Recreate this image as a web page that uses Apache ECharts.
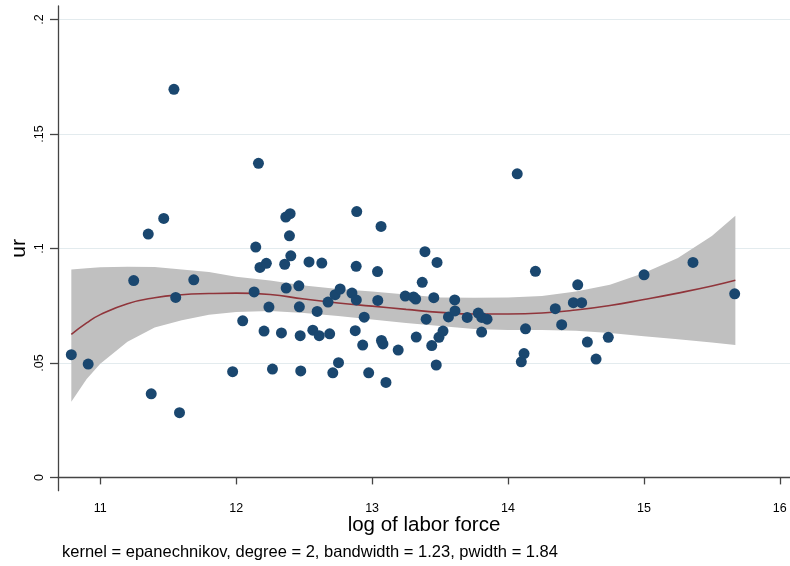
<!DOCTYPE html>
<html>
<head>
<meta charset="utf-8">
<script src="https://cdn.jsdelivr.net/npm/echarts@6/dist/echarts.min.js"></script>
<style>html,body{margin:0;padding:0;background:#fff}#c{width:790px;height:566px}</style>
</head>
<body>
<div id="c"></div>
<script>
// Scatter: log of labor force (x) vs unemployment rate ur (y)
const lnlf = [10.787,10.911,11.246,11.353,11.467,11.542,11.555,11.375,11.583,11.688,
  11.974,12.048,12.132,12.144,12.164,12.175,12.222,12.205,12.241,12.267,
  12.333,12.357,12.368,12.365,12.397,12.392,12.402,12.461,12.465,12.471,
  12.475,12.536,12.564,12.596,12.611,12.630,12.676,12.688,12.711,12.728,
  12.753,12.765,12.852,12.884,12.876,12.883,12.887,12.942,12.931,12.975,
  13.040,13.042,13.066,13.069,13.080,13.102,13.192,13.244,13.305,13.321,
  13.325,13.369,13.389,13.398,13.439,13.454,13.478,13.472,13.492,13.522,
  13.562,13.608,13.610,13.700,13.781,13.807,13.846,13.806,14.068,14.098,
  14.118,14.129,14.202,14.348,14.395,14.481,14.542,14.513,14.584,14.648,
  14.738,15.001,15.361,15.668];
const ur = [0.0536,0.0495,0.0860,0.1063,0.1131,0.1695,0.0786,0.0365,0.0283,0.0863,
  0.0462,0.0684,0.0810,0.1006,0.1372,0.0917,0.0935,0.0639,0.0744,0.0473,
  0.0631,0.0931,0.0827,0.1137,0.1152,0.1055,0.0968,0.0837,0.0745,0.0619,
  0.0465,0.0941,0.0643,0.0725,0.0619,0.0936,0.0766,0.0627,0.0457,0.0798,
  0.0501,0.0823,0.0805,0.0775,0.0641,0.0922,0.1161,0.0700,0.0578,0.0457,
  0.0899,0.0773,0.1096,0.0598,0.0583,0.0415,0.0556,0.0792,0.0788,0.0779,
  0.0613,0.0852,0.0986,0.0691,0.0576,0.0785,0.0939,0.0491,0.0612,0.0639,
  0.0701,0.0775,0.0727,0.0699,0.0718,0.0699,0.0691,0.0635,0.1326,0.0505,
  0.0541,0.0649,0.0900,0.0737,0.0667,0.0763,0.0763,0.0841,0.0591,0.0517,
  0.0612,0.0885,0.0939,0.0802];

// Local polynomial smooth and its confidence band
const gridX = [10.787,10.9,11.0,11.2,11.4,11.6,11.8,12.0,12.25,12.5,12.75,13.0,13.25,13.5,13.75,14.0,14.25,14.5,14.75,15.0,15.25,15.5,15.673];
const smooth = [0.0625,0.0675,0.0711,0.0759,0.0785,0.0798,0.0803,0.0805,0.0799,0.0779,0.0762,0.0748,0.0734,0.0721,0.0714,0.0714,0.0718,0.0731,0.0751,0.0777,0.0805,0.0836,0.0861];
const ciUpper = [0.0908,0.0914,0.0918,0.0920,0.0919,0.0908,0.0897,0.0877,0.0860,0.0838,0.0823,0.0812,0.0799,0.0786,0.0785,0.0786,0.0792,0.0812,0.0842,0.0893,0.0958,0.1054,0.1143];
const ciLower = [0.0331,0.0430,0.0497,0.0593,0.0655,0.0687,0.0711,0.0723,0.0727,0.0718,0.0705,0.0690,0.0674,0.0661,0.0648,0.0644,0.0644,0.0641,0.0631,0.0617,0.0604,0.0589,0.0578];

const xTicks = [11,12,13,14,15,16];
const yTicks = [0,0.05,0.1,0.15,0.2];

const FONT = '"Liberation Sans", Arial, Helvetica, sans-serif';
const chart = echarts.init(document.getElementById('c'), null, {renderer:'canvas'});

const fmtY = v => { const r = Math.round(v*100)/100; return r === 0 ? '0' : String(r).replace(/^0/, ''); };

chart.setOption({
  animation: false,
  backgroundColor: '#ffffff',
  grid: {left: 58, right: 0, top: 6, bottom: 75.3, containLabel: false, outerBoundsMode: 'none'},
  xAxis: {
    type: 'value', min: 10.689, max: 16.075,
    name: 'log of labor force', nameLocation: 'middle', nameGap: 24, nameMoveOverlap: false,
    nameTextStyle: {fontFamily: FONT, fontSize: 20.5, color: '#000'},
    axisLine: {show: true, lineStyle: {color: '#444', width: 1.3}},
    axisTick: {show: true, length: 7, customValues: xTicks, lineStyle: {color: '#444', width: 1.3}},
    axisLabel: {customValues: xTicks, fontFamily: FONT, fontSize: 12.5, color: '#000', margin: 11},
    splitLine: {show: false}
  },
  yAxis: {
    type: 'value', min: -0.0058, max: 0.2059,
    name: 'ur', nameLocation: 'middle', nameGap: 28, nameRotate: 90, nameMoveOverlap: false,
    nameTextStyle: {fontFamily: FONT, fontSize: 21, color: '#000'},
    axisLine: {show: true, lineStyle: {color: '#444', width: 1.3}},
    axisTick: {show: true, length: 8, customValues: yTicks, lineStyle: {color: '#444', width: 1.3}},
    axisLabel: {customValues: yTicks, rotate: 90, fontFamily: FONT, fontSize: 12.5, color: '#000', margin: 12, formatter: fmtY},
    splitLine: {show: true, lineStyle: {color: '#e3ebee', width: 1}}
  },
  graphic: [{
    type: 'text', left: 62, top: 544,
    style: {text: 'kernel = epanechnikov, degree = 2, bandwidth = 1.23, pwidth = 1.84', font: '16.5px ' + FONT, fill: '#000'}
  }],
  series: [
    {
      type: 'custom', silent: true, z: 1,
      data: [0],
      renderItem: function (params, api) {
        const pts = [];
        for (let i = 0; i < gridX.length; i++) pts.push(api.coord([gridX[i], ciUpper[i]]));
        for (let i = gridX.length - 1; i >= 0; i--) pts.push(api.coord([gridX[i], ciLower[i]]));
        return {type: 'polygon', shape: {points: pts}, style: {fill: '#c0c0c0', stroke: null}};
      }
    },
    {
      type: 'line', z: 2, silent: true, smooth: true, showSymbol: false,
      data: gridX.map((x, i) => [x, smooth[i]]),
      lineStyle: {color: '#90353b', width: 1.6}
    },
    {
      type: 'scatter', z: 3, silent: true,
      symbolSize: 11,
      data: lnlf.map((x, i) => [x, ur[i]]),
      itemStyle: {color: '#1a476f', opacity: 1}
    }
  ]
});
</script>
</body>
</html>
